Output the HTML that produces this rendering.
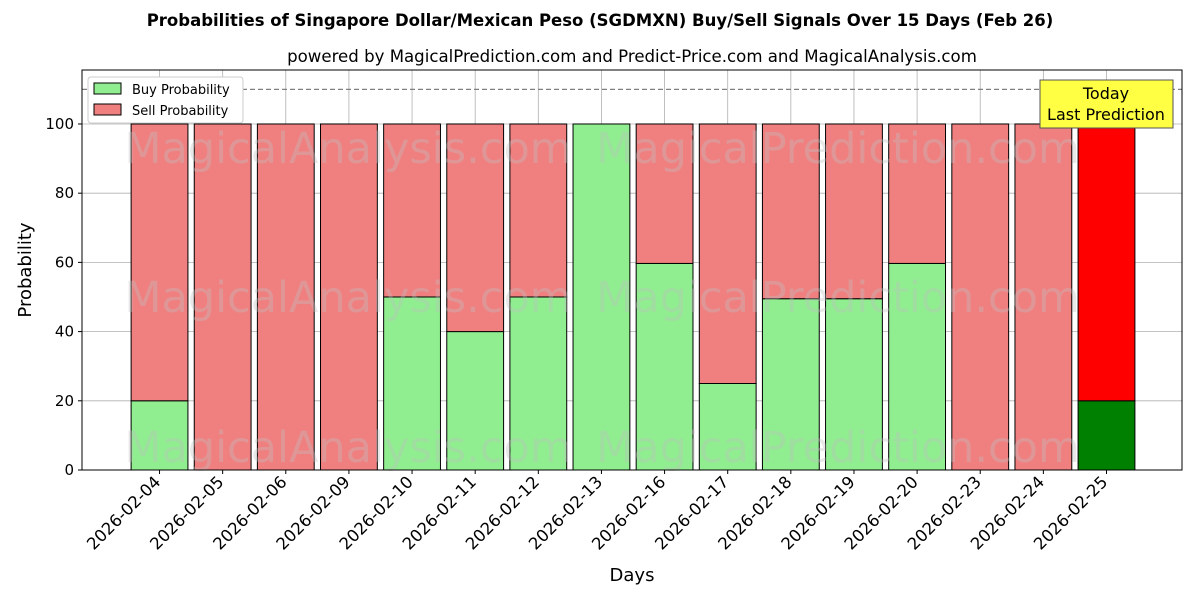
<!DOCTYPE html>
<html><head><meta charset="utf-8"><style>
body{margin:0;background:#fff;font-family:"Liberation Sans","DejaVu Sans",sans-serif}
</style></head><body>
<svg id="chart" width="1200" height="600" xmlns="http://www.w3.org/2000/svg" font-family="DejaVu Sans, Liberation Sans, sans-serif">
<text x="600" y="26" text-anchor="middle" font-size="16.5" font-weight="bold">Probabilities of Singapore Dollar/Mexican Peso (SGDMXN) Buy/Sell Signals Over 15 Days (Feb 26)</text>
<text x="632" y="62" text-anchor="middle" font-size="16.6">powered by MagicalPrediction.com and Predict-Price.com and MagicalAnalysis.com</text>
<g id="grid"></g>
<g id="bars"></g>
<g id="wm" font-size="43" fill="#c0c0c0" opacity="0.35">
<text x="348" y="163" text-anchor="middle">MagicalAnalysis.com</text>
<text x="838" y="163" text-anchor="middle">MagicalPrediction.com</text>
<text x="348" y="312" text-anchor="middle">MagicalAnalysis.com</text>
<text x="838" y="312" text-anchor="middle">MagicalPrediction.com</text>
<text x="348" y="462" text-anchor="middle">MagicalAnalysis.com</text>
<text x="838" y="462" text-anchor="middle">MagicalPrediction.com</text>
</g>
<line id="thr" x1="82" x2="1182" stroke="#808080" stroke-dasharray="5,3" stroke-width="1.2"/>
<rect x="82" y="70" width="1100" height="400" fill="none" stroke="#000" stroke-width="1"/>
<g id="axes" font-size="15"></g>
<text x="632" y="581" text-anchor="middle" font-size="18">Days</text>
<text transform="translate(31,270) rotate(-90)" text-anchor="middle" font-size="18">Probability</text>
<g>
<rect x="88" y="77" width="155" height="46" fill="#fff" stroke="#ccc" rx="3"/>
<rect x="94" y="83" width="27" height="11" fill="#90ee90" stroke="#000" stroke-width="1"/>
<text x="132" y="94" font-size="13">Buy Probability</text>
<rect x="94" y="104" width="27" height="11" fill="#f08080" stroke="#000" stroke-width="1"/>
<text x="132" y="115" font-size="13">Sell Probability</text>
</g>
<g>
<rect x="1040" y="80" width="133" height="48" fill="#ffff44" stroke="#555"/>
<text x="1106" y="99" text-anchor="middle" font-size="16">Today</text>
<text x="1106" y="120" text-anchor="middle" font-size="16">Last Prediction</text>
</g>
</svg>
<script>
const categories=["2026-02-04","2026-02-05","2026-02-06","2026-02-09","2026-02-10","2026-02-11","2026-02-12","2026-02-13","2026-02-16","2026-02-17","2026-02-18","2026-02-19","2026-02-20","2026-02-23","2026-02-24","2026-02-25"];
const buyValues=[20,0,0,0,50,40,50,100,59.7,25,49.5,49.5,59.7,0,0,20];
const sellValues=[80,100,100,100,50,60,50,0,40.3,75,50.5,50.5,40.3,100,100,80];
const yTicks=[0,20,40,60,80,100];
const threshold=110;
const NS="http://www.w3.org/2000/svg";
const X0=82,X1=1182,Y0=470,Y1=70,xmin=-1.228,xmax=categories.length-1+1.196,ymax=115.6;
const xs=i=>X0+(i-xmin)/(xmax-xmin)*(X1-X0);
const ys=v=>Y0-v/ymax*(Y0-Y1);
const bw=0.9/(xmax-xmin)*(X1-X0);
function el(t,a,p){const e=document.createElementNS(NS,t);for(const k in a)e.setAttribute(k,a[k]);p.appendChild(e);return e;}
const grid=document.getElementById('grid'),bars=document.getElementById('bars'),axes=document.getElementById('axes');
document.getElementById('thr').setAttribute('y1',ys(threshold));document.getElementById('thr').setAttribute('y2',ys(threshold));
yTicks.forEach(t=>{const y=ys(t);
const g=el('line',{x1:X0,x2:X1,y1:y,y2:y,stroke:'#b0b0b0','stroke-width':0.8},grid);

el('line',{x1:X0-4,x2:X0,y1:y,y2:y,stroke:'#000'},axes);
const tx=el('text',{x:X0-8,y:y+5,'text-anchor':'end'},axes);tx.textContent=t;
});
categories.forEach((c,i)=>{const x=xs(i);const last=i===categories.length-1;
const g=el('line',{x1:x,x2:x,y1:Y1,y2:Y0,stroke:'#b0b0b0','stroke-width':0.8},grid);

const b=el('rect',{x:x-bw/2,y:ys(buyValues[i]),width:bw,height:Y0-ys(buyValues[i]),fill:last?'#008000':'#90ee90',stroke:'#000','stroke-width':1},bars);

const s=el('rect',{x:x-bw/2,y:ys(buyValues[i]+sellValues[i]),width:bw,height:ys(buyValues[i])-ys(buyValues[i]+sellValues[i]),fill:last?'#ff0000':'#f08080',stroke:'#000','stroke-width':1},bars);

el('line',{x1:x,x2:x,y1:Y0,y2:Y0+4,stroke:'#000'},axes);
const tx=el('text',{x:x+2,y:Y0+13,'text-anchor':'end','font-size':16.5,transform:`rotate(-45 ${x+2} ${Y0+13})`},axes);tx.textContent=c;
});
</script>
</body></html>
